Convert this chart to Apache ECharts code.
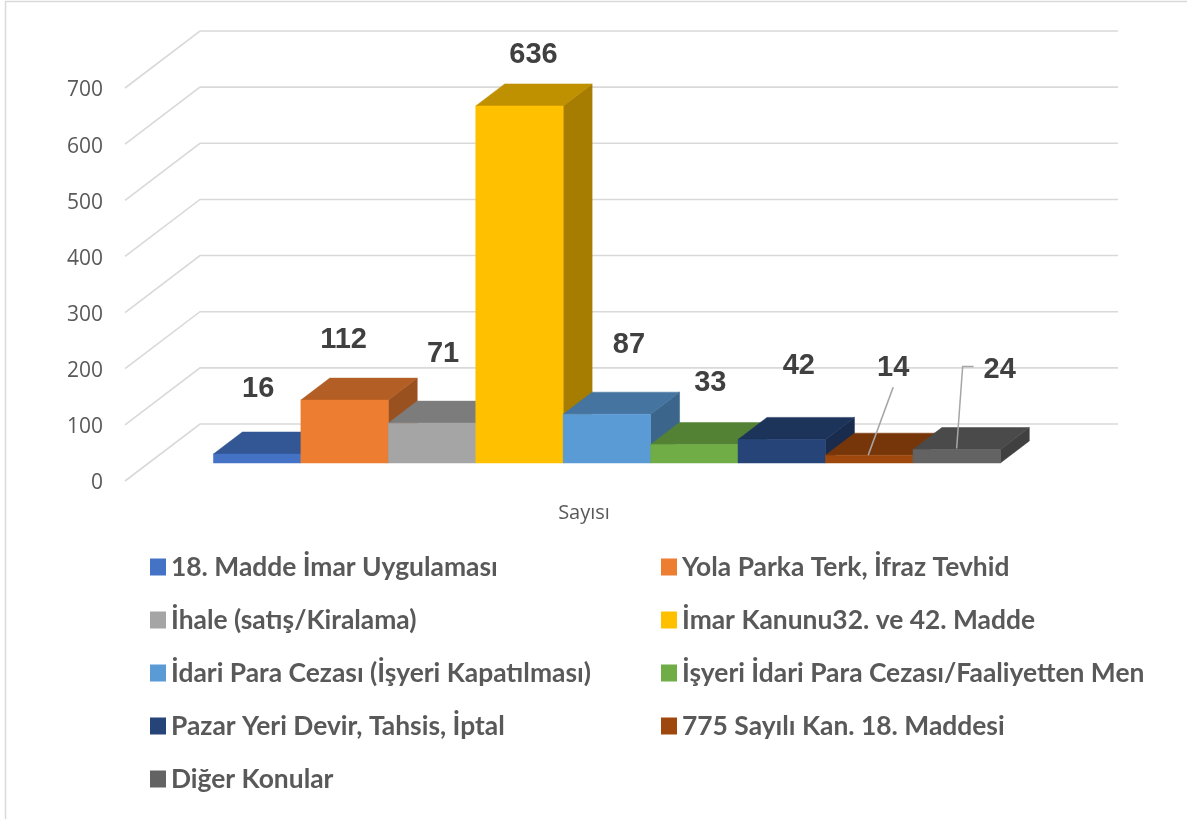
<!DOCTYPE html>
<html>
<head>
<meta charset="utf-8">
<script src="https://cdn.jsdelivr.net/npm/echarts@6/dist/echarts.min.js"></script>
<style>html,body{margin:0;padding:0;background:#fff}#c{width:1187px;height:819px}</style>
</head>
<body>
<div id="c"></div>
<script>
const categoryLabels = ['Sayısı'];
const seriesNames = [
  '18. Madde İmar Uygulaması', 'Yola Parka Terk, İfraz Tevhid',
  'İhale (satış/Kiralama)', 'İmar Kanunu32. ve 42. Madde',
  'İdari Para Cezası (İşyeri Kapatılması)', 'İşyeri İdari Para Cezası/Faaliyetten Men',
  'Pazar Yeri Devir, Tahsis, İptal', '775 Sayılı Kan. 18. Maddesi', 'Diğer Konular'
];
const seriesValues = [16, 112, 71, 636, 87, 33, 42, 14, 24];
const seriesColors = ['#4472C4', '#ED7D31', '#A5A5A5', '#FFC000', '#5B9BD5', '#70AD47', '#264478', '#9E480E', '#636363'];
const topColors = ['#335694', '#B25E25', '#7C7C7C', '#BF9000', '#44749F', '#548235', '#1C335A', '#773609', '#4A4A4A'];
const sideColors = ['#2C4A80', '#9A5120', '#6B6B6B', '#A67D00', '#3B658B', '#49712E', '#192C4E', '#672F09', '#404040'];
const axisTicks = [0, 100, 200, 300, 400, 500, 600, 700];
const labelOffsets = [[1, -65], [-1, -60], [11, -69], [14, -51], [22, -69], [16, -61], [17, -73], [24, -87], [43, -80]];
const leaders = {7: [[24, -68], [-1, 0]], 8: [[17, -83], [6, -83], [0, -1]]};

const DEPTH_X = 75, DEPTH_Y = 57;
const BAR_FRONT = 0.316, BAR_BACK = 0.702, BAR_WIDTH = 0.09525;
const BAR_NUDGE = -0.8;
const TEXT = '#404040';

function shade(c, ...pts) { return {type: 'polygon', shape: {points: pts}, style: {fill: c, stroke: c, lineWidth: 0.5}}; }

function wallItem(params, api) {
  const p = api.coord([0, api.value(0)]);
  const band = api.size([1, 0])[0];
  const left = p[0] - band / 2;
  return {
    type: 'polyline',
    shape: {points: [[left, p[1]], [left + DEPTH_X, p[1] - DEPTH_Y], [left + DEPTH_X + band, p[1] - DEPTH_Y]]},
    style: {fill: null, stroke: '#d9d9d9', lineWidth: 1.6}
  };
}

function barItem(i) {
  return function (params, api) {
    const v = api.value(1);
    const top = api.coord([0, v]);
    const zero = api.coord([0, 0]);
    const band = api.size([1, 0])[0];
    const w = band * BAR_WIDTH;
    const x0 = top[0] + (i - 4.5) * w + DEPTH_X * BAR_FRONT + BAR_NUDGE;
    const x1 = x0 + w;
    const yT = top[1] - DEPTH_Y * BAR_FRONT;
    const yB = zero[1] - DEPTH_Y * BAR_FRONT;
    const dx = DEPTH_X * (BAR_BACK - BAR_FRONT), dy = DEPTH_Y * (BAR_BACK - BAR_FRONT);
    const cx = (x0 + x1) / 2;
    const children = [
      shade(sideColors[i], [x1, yT], [x1 + dx, yT - dy], [x1 + dx, yB - dy], [x1, yB]),
      shade(topColors[i], [x0, yT], [x1, yT], [x1 + dx, yT - dy], [x0 + dx, yT - dy]),
      shade(seriesColors[i], [x0, yT], [x1, yT], [x1, yB], [x0, yB])
    ];
    if (leaders[i]) {
      children.push({
        type: 'polyline', z2: 50,
        shape: {points: leaders[i].map(o => [cx + o[0], yT + o[1]])},
        style: {fill: null, stroke: '#a6a6a6', lineWidth: 1.5}
      });
    }
    children.push({
      type: 'text', z2: 60, x: cx + labelOffsets[i][0], y: yT + labelOffsets[i][1],
      style: {text: String(v), fill: TEXT, font: 'bold 29px "Liberation Sans", Arial, sans-serif', align: 'center', verticalAlign: 'middle'}
    });
    return {type: 'group', children};
  };
}

const legendText = {color: '#595959', fontFamily: 'Lato', fontWeight: 'bold', fontSize: 26.4, padding: [0, 0, 0, 0]};
function legendOf(left, names) {
  return {
    orient: 'vertical', left, top: 554, height: 265, padding: 0, itemWidth: 16, itemHeight: 17, itemGap: 27,
    icon: 'rect', selectedMode: false, data: names, textStyle: legendText
  };
}

const option = {
  animation: false,
  backgroundColor: '#fff',
  grid: {left: 125, top: 88, width: 918, height: 393},
  legend: [
    legendOf(150, seriesNames.filter((n, i) => i % 2 === 0)),
    legendOf(661, seriesNames.filter((n, i) => i % 2 === 1))
  ],
  xAxis: {
    type: 'category', data: categoryLabels,
    axisLine: {show: false}, axisTick: {show: false},
    axisLabel: {color: '#595959', fontFamily: 'Open Sans', fontSize: 20, margin: 22}
  },
  yAxis: {
    type: 'value', min: 0, max: 700, interval: 100,
    axisLine: {show: false}, axisTick: {show: false}, splitLine: {show: false},
    axisLabel: {color: '#595959', fontFamily: 'Open Sans', fontSize: 21, margin: 22, verticalAlign: 'top', lineHeight: 5}
  },
  graphic: [{
    type: 'polyline', silent: true,
    shape: {points: [[5.5, 819], [5.5, 1.5], [1187, 1.5]]},
    style: {fill: null, stroke: '#d9d9d9', lineWidth: 1.5}
  }],
  series: [
    {type: 'custom', silent: true, clip: false, z: 1, data: axisTicks.map(t => [t]), encode: {y: 0}, renderItem: wallItem},
    ...seriesNames.map((name, i) => ({
      type: 'custom', name, silent: true, clip: false, z: 2,
      itemStyle: {color: seriesColors[i]},
      data: [[0, seriesValues[i]]], encode: {x: 0, y: 1},
      renderItem: barItem(i)
    }))
  ]
};
echarts.init(document.getElementById('c'), null, {renderer: 'canvas'}).setOption(option);
</script>
</body>
</html>
